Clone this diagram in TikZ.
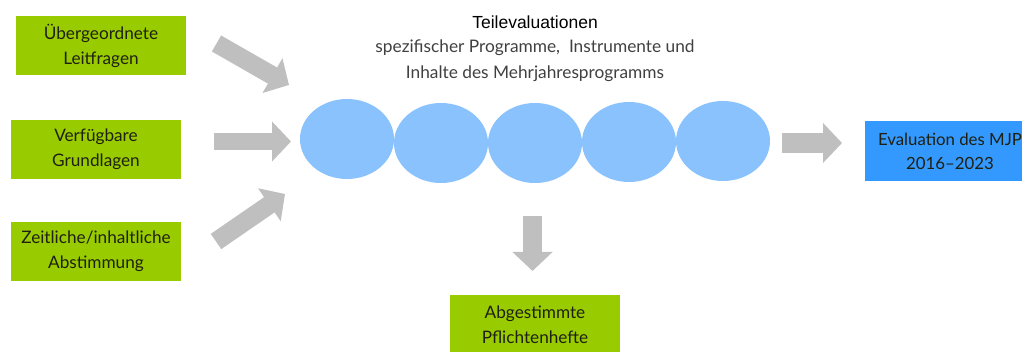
\documentclass[tikz,border=0pt]{standalone}
\usepackage{fontspec}
\setmainfont{Lato}
\newfontfamily\titlefont{Liberation Sans}
\usetikzlibrary{arrows.meta,shapes.geometric}
\definecolor{boxgreen}{HTML}{99CC00}
\definecolor{boxblue}{HTML}{3399FF}
\definecolor{ellblue}{HTML}{89C2FC}
\definecolor{arrgray}{HTML}{BFBFBF}
\definecolor{txtdark}{HTML}{1F2010}
\definecolor{txtgray}{HTML}{404040}
\tikzset{
  greenbox/.style={fill=boxgreen, text=txtdark, minimum width=170pt, minimum height=59pt, align=center, inner sep=0pt, font=\fontsize{17.2}{25}\selectfont},
  bluebox/.style={fill=boxblue, text=txtdark, minimum width=170pt, minimum height=60pt, align=center, inner sep=0pt, font=\fontsize{16.8}{24}\selectfont},
  ellnode/.style={fill=ellblue, ellipse, minimum width=94pt, minimum height=80pt, inner sep=0pt},
  blockarrow/.style={draw=arrgray, line width=#1, -{Triangle[length=19pt,width=39pt]}},
}
\begin{document}
\begin{tikzpicture}[x=1pt,y=-1pt]
\useasboundingbox (0,0) rectangle (1022,352);
% boxes
\node[greenbox] (b1) at (101,45.5) {Übergeordnete\\Leitfragen};
\node[greenbox] (b2) at (96,149.5) {Verfügbare\\Grundlagen};
\node[greenbox] (b3) at (96,251.5) {Zeitliche/inhaltliche\\Abstimmung};
\node[greenbox] (b4) at (535,324.5) {Abgestimmte\\Pflichtenhefte};
\node[bluebox] (b5) at (950,151) {Evaluation des MJP\\2016–2023};
% ellipses
\node[ellnode] (e1) at (347,139) {};
\node[ellnode] (e2) at (441,143) {};
\node[ellnode] (e3) at (535,143) {};
\node[ellnode] (e4) at (629,142) {};
\node[ellnode] (e5) at (723,141) {};
% title
\node[font=\titlefont\fontsize{17.5}{20}\selectfont, text=black] (t1) at (535,22) {Teilevaluationen};
\node[font=\fontsize{17.3}{26}\selectfont, text=txtgray, align=center] (t2) at (535,61) {spezifischer Programme,\ \ Instrumente und\\Inhalte des Mehrjahresprogramms};
% arrow anchors
\coordinate (a1s) at (216.5,43.5); \coordinate (a1e) at (289,85);
\coordinate (a2s) at (214,141.5); \coordinate (a2e) at (291,141.5);
\coordinate (a3s) at (216,241.5); \coordinate (a3e) at (285,194);
\coordinate (a4s) at (782,143); \coordinate (a4e) at (842,143);
\coordinate (a5s) at (532.5,216); \coordinate (a5e) at (532.5,271);
\draw[blockarrow=18.5pt] (a1s) -- (a1e);
\draw[blockarrow=17.5pt] (a2s) -- (a2e);
\draw[blockarrow=18.5pt] (a3s) -- (a3e);
\draw[blockarrow=20pt] (a4s) -- (a4e);
\draw[blockarrow=19pt] (a5s) -- (a5e);
\end{tikzpicture}
\end{document}
